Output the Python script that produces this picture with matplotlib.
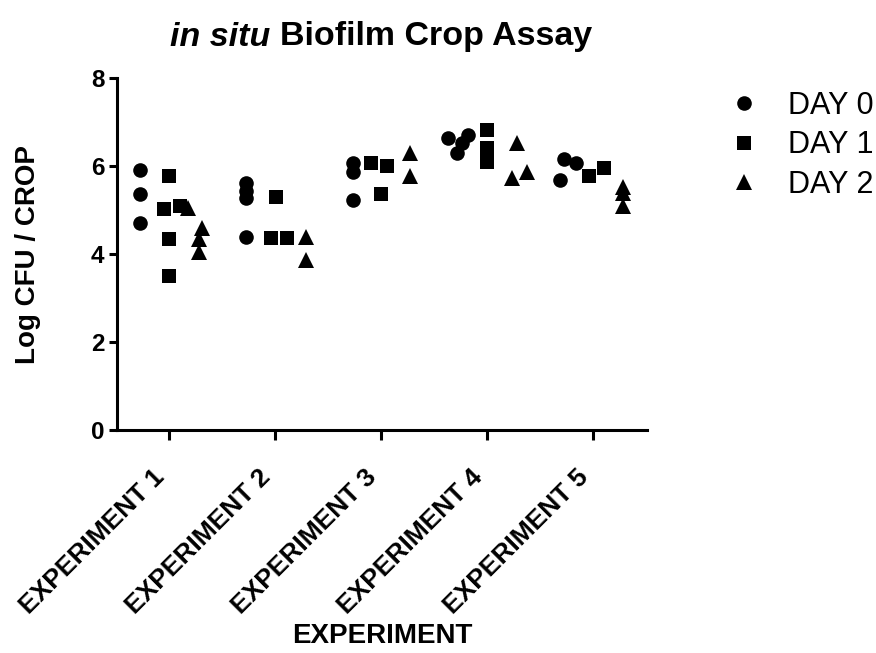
import matplotlib
matplotlib.use("Agg")
import matplotlib.pyplot as plt
import numpy as np

plt.rcParams['font.family'] = ['Liberation Sans', 'DejaVu Sans']

experiments = ["EXPERIMENT 1", "EXPERIMENT 2", "EXPERIMENT 3", "EXPERIMENT 4", "EXPERIMENT 5"]
days = ["DAY 0", "DAY 1", "DAY 2"]
markers = ["o", "s", "^"]
y_ticks = [0, 2, 4, 6, 8]

# values (Log CFU / CROP), per experiment
day0_values = [[5.91, 5.36, 4.70],
               [5.61, 5.43, 5.27, 4.39],
               [6.06, 5.87, 5.23],
               [6.63, 6.70, 6.52, 6.29],
               [6.16, 6.06, 5.68]]
day1_values = [[5.78, 5.02, 5.08, 4.33, 3.50],
               [5.30, 4.37, 4.37],
               [6.06, 6.00, 5.36],
               [6.82, 6.40, 6.10],
               [5.78, 5.96]]
day2_values = [[5.04, 4.58, 4.33, 4.05],
               [4.39, 3.86],
               [6.29, 5.77],
               [6.53, 5.72, 5.87],
               [5.53, 5.39, 5.08]]
# horizontal scatter offsets (category units)
day0_offsets = [[-0.27, -0.27, -0.27],
                [-0.27, -0.27, -0.27, -0.27],
                [-0.26, -0.26, -0.26],
                [-0.365, -0.176, -0.236, -0.286],
                [-0.27, -0.16, -0.31]]
day1_offsets = [[0.0, -0.045, 0.10, 0.0, 0.0],
                [0.01, -0.035, 0.11],
                [-0.094, 0.054, 0.0],
                [0.0, 0.0, 0.0],
                [-0.04, 0.107]]
day2_offsets = [[0.18, 0.31, 0.28, 0.28],
                [0.29, 0.29],
                [0.27, 0.27],
                [0.28, 0.24, 0.38],
                [0.286, 0.286, 0.286]]

all_values = [day0_values, day1_values, day2_values]
all_offsets = [day0_offsets, day1_offsets, day2_offsets]

fig = plt.figure(figsize=(8.76, 6.53), dpi=100)
ax = fig.add_axes([117/876, 1-430/653, 530/876, 352/653])

sizes = {"o": 10.5, "s": 10.5, "^": 11}
for vals, offs, mk, lab in zip(all_values, all_offsets, markers, days):
    xs, ys = [], []
    for i, (v, o) in enumerate(zip(vals, offs)):
        for vv, oo in zip(v, o):
            xs.append(i + 1 + oo)
            ys.append(vv)
    ax.plot(xs, ys, linestyle="none", marker=mk, markersize=sizes[mk],
            color="black", markeredgewidth=0, label=lab, clip_on=False)

ax.set_xlim(0.51, 5.51)
ax.set_ylim(0, 8)
ax.set_yticks(y_ticks, [str(t) for t in y_ticks], fontsize=17.5,
              fontweight="bold")
ax.set_xticks(np.arange(1, 6), experiments, rotation=45, ha="right",
              va="top", fontsize=19, fontweight="bold")

for s in ["top", "right"]:
    ax.spines[s].set_visible(False)
for s in ["left", "bottom"]:
    ax.spines[s].set_linewidth(2.2)
ax.tick_params(axis="y", length=6, width=2.2, pad=3)
ax.tick_params(axis="x", length=7, width=2.2, pad=18)

ax.set_xlabel("EXPERIMENT", fontsize=20, fontweight="bold")
ax.xaxis.set_label_coords(0.5, (430-636)/352)
ax.set_ylabel("Log CFU / CROP", fontsize=20, fontweight="bold")
ax.yaxis.set_label_coords((28-117)/530, 0.5)
ax.xaxis.label.set_va("center")
ax.yaxis.label.set_va("center")

leg = fig.legend(loc="upper left", bbox_to_anchor=(722/876, 1-91/653),
                 frameon=False, fontsize=22, handlelength=1.45,
                 handletextpad=0.72, labelspacing=0.31, borderpad=0,
                 borderaxespad=0)

# title: italic "in situ" + bold rest, centered over axes
fig.canvas.draw()
r = fig.canvas.get_renderer()
title_y = 1 - 37/653
t1 = fig.text(0, title_y, "in situ ", fontsize=24.5, fontweight="bold",
              style="italic", va="center")
t2 = fig.text(0, title_y, "Biofilm Crop Assay", fontsize=24.5,
              fontweight="bold", va="center")
w1 = t1.get_window_extent(r).width
w2 = t2.get_window_extent(r).width
cx = 381
x0 = cx - (w1 + w2) / 2
t1.set_x(x0 / 876)
t2.set_x((x0 + w1) / 876)

fig.savefig("out.png", dpi=100)
